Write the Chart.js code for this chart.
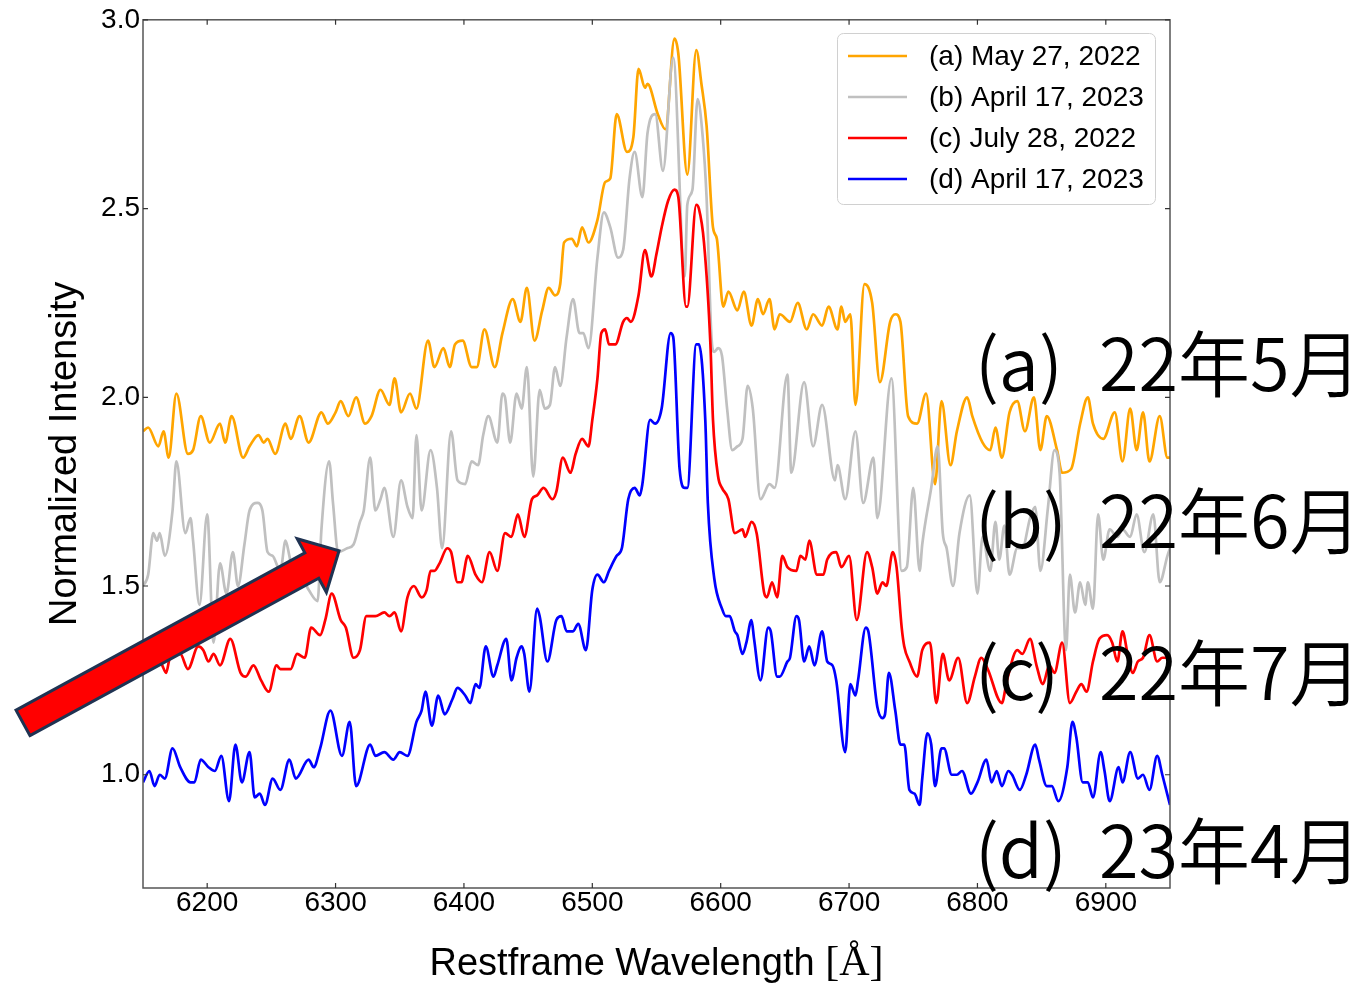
<!DOCTYPE html>
<html lang="ja">
<head>
<meta charset="utf-8">
<title>Restframe spectra</title>
<script src="https://cdn.jsdelivr.net/npm/chart.js@4.4.0/dist/chart.umd.min.js"></script>
<style>
  html, body { margin: 0; padding: 0; background: #fff; }
  canvas { display: block; }
</style>
</head>
<body>
<canvas id="spectra" width="1368" height="983"></canvas>
<script>
// スペクトルデータ: 波長 [Å] と規格化強度
const waveA = [6150,6154,6162,6166,6170,6176,6185,6189,6195,6202,6210,6214,6219,6228,6233,6240,6244,6247,6253,6261,6265,6272,6279,6289,6294,6300,6304,6310,6316,6323,6328,6335,6342,6346,6351,6358,6363,6372,6377,6384,6389,6393,6399,6406,6410,6416,6424,6430,6438,6444,6449,6455,6461,6466,6471,6475,6478,6484,6488,6492,6497,6504,6510,6514,6519,6527,6532,6536,6541,6543,6551,6557,6564,6567,6574,6581,6585,6589,6594,6597,6602,6606,6613,6618,6624,6629,6633,6638,6642,6646,6654,6660,6667,6672,6679,6684,6691,6694,6697,6701,6705,6712,6718,6724,6732,6736,6740,6746,6753,6760,6767,6772,6779,6784,6792,6796,6804,6810,6814,6819,6825,6831,6837,6844,6849,6854,6862,6866,6873,6880,6886,6890,6898,6907,6913,6919,6924,6929,6934,6942,6948,6950];
const fluxA = [1.91,1.92,1.87,1.91,1.84,2.01,1.85,1.86,1.95,1.88,1.93,1.88,1.95,1.84,1.87,1.90,1.88,1.89,1.85,1.93,1.89,1.95,1.88,1.96,1.93,1.96,1.99,1.95,2.00,1.93,1.95,2.02,1.98,2.05,1.96,2.01,1.97,2.15,2.08,2.13,2.08,2.14,2.15,2.08,2.08,2.18,2.08,2.17,2.26,2.20,2.29,2.15,2.23,2.29,2.27,2.30,2.41,2.42,2.40,2.45,2.41,2.47,2.57,2.58,2.75,2.65,2.69,2.87,2.82,2.83,2.75,2.71,2.95,2.91,2.59,2.92,2.83,2.72,2.45,2.42,2.24,2.28,2.23,2.28,2.19,2.26,2.22,2.26,2.18,2.22,2.20,2.25,2.18,2.22,2.19,2.24,2.18,2.24,2.20,2.22,1.98,2.30,2.25,2.04,2.20,2.22,2.20,1.95,1.93,2.01,1.77,1.99,1.82,1.91,2.00,1.95,1.88,1.86,1.92,1.84,1.96,1.99,1.91,2.00,1.86,1.95,1.86,1.80,1.81,1.93,2.00,1.93,1.89,1.96,1.83,1.97,1.86,1.96,1.83,1.95,1.84,1.84];

const waveB = [6150,6154,6158,6161,6163,6167,6173,6176,6183,6187,6189,6194,6200,6205,6210,6215,6220,6224,6229,6233,6239,6243,6247,6251,6257,6261,6264,6268,6272,6279,6286,6289,6295,6298,6302,6309,6314,6319,6322,6327,6331,6335,6338,6345,6351,6356,6360,6363,6367,6374,6379,6383,6390,6395,6401,6406,6411,6415,6419,6426,6430,6432,6436,6441,6445,6449,6454,6459,6463,6467,6471,6475,6480,6485,6490,6493,6497,6504,6509,6514,6520,6524,6529,6533,6539,6543,6549,6555,6563,6572,6574,6578,6582,6586,6589,6593,6595,6598,6601,6605,6609,6613,6617,6621,6625,6631,6638,6642,6652,6655,6665,6672,6679,6689,6691,6697,6705,6711,6719,6722,6733,6741,6745,6750,6755,6757,6764,6769,6773,6776,6781,6786,6794,6800,6804,6810,6814,6817,6821,6825,6831,6835,6841,6845,6849,6855,6860,6864,6869,6872,6876,6880,6884,6886,6890,6894,6898,6903,6909,6913,6919,6924,6930,6937,6942,6948,6950];
const fluxB = [1.50,1.53,1.64,1.62,1.64,1.58,1.70,1.83,1.64,1.68,1.62,1.45,1.69,1.35,1.56,1.48,1.59,1.50,1.61,1.70,1.72,1.70,1.59,1.58,1.54,1.62,1.58,1.51,1.53,1.49,1.46,1.65,1.83,1.72,1.59,1.60,1.61,1.67,1.70,1.84,1.70,1.73,1.76,1.63,1.78,1.71,1.68,1.90,1.70,1.86,1.76,1.60,1.91,1.78,1.77,1.83,1.82,1.90,1.95,1.88,2.01,2.00,1.88,2.01,1.97,2.08,1.79,2.02,1.97,1.98,2.08,2.03,2.16,2.26,2.17,2.17,2.13,2.37,2.49,2.45,2.37,2.39,2.58,2.65,2.53,2.70,2.75,2.60,2.90,2.32,2.51,2.55,2.79,2.69,2.53,2.15,2.12,2.13,2.11,1.97,1.86,1.87,1.89,2.03,1.97,1.73,1.77,1.76,2.06,1.80,2.04,1.87,1.98,1.78,1.82,1.73,1.91,1.72,1.84,1.68,2.05,1.54,1.55,1.76,1.54,1.61,1.76,1.87,1.64,1.60,1.50,1.64,1.74,1.48,1.63,1.54,1.67,1.57,1.66,1.53,1.60,1.60,1.68,1.71,1.54,1.71,1.86,1.80,1.33,1.53,1.43,1.51,1.45,1.51,1.44,1.69,1.57,1.65,1.63,1.65,1.63,1.69,1.59,1.69,1.51,1.58,1.60];

const waveC = [6150,6157,6162,6165,6168,6171,6179,6185,6193,6197,6201,6205,6210,6218,6226,6230,6236,6242,6248,6254,6257,6265,6270,6276,6281,6288,6292,6297,6304,6308,6314,6319,6324,6331,6338,6342,6346,6351,6356,6361,6367,6371,6374,6377,6381,6387,6390,6395,6398,6403,6409,6414,6420,6426,6432,6437,6442,6447,6453,6457,6462,6469,6472,6477,6483,6487,6492,6497,6500,6504,6507,6510,6513,6518,6524,6527,6530,6536,6541,6546,6550,6554,6559,6564,6567,6573,6574,6581,6583,6587,6592,6594,6598,6601,6606,6611,6617,6619,6624,6628,6634,6636,6640,6644,6648,6652,6659,6662,6666,6669,6675,6680,6683,6690,6694,6700,6706,6714,6718,6722,6726,6729,6734,6737,6741,6743,6747,6753,6757,6763,6768,6773,6778,6785,6792,6798,6803,6808,6819,6823,6831,6835,6841,6846,6851,6856,6860,6866,6872,6877,6881,6885,6890,6895,6901,6905,6909,6913,6917,6921,6925,6929,6934,6940,6944,6950];
const fluxC = [1.33,1.30,1.31,1.29,1.27,1.31,1.32,1.28,1.34,1.33,1.30,1.32,1.29,1.36,1.27,1.26,1.29,1.25,1.22,1.29,1.28,1.28,1.32,1.31,1.39,1.37,1.41,1.48,1.41,1.39,1.31,1.33,1.42,1.42,1.43,1.42,1.43,1.38,1.47,1.50,1.47,1.49,1.54,1.54,1.56,1.60,1.59,1.51,1.51,1.58,1.53,1.51,1.59,1.54,1.64,1.63,1.69,1.63,1.73,1.74,1.76,1.73,1.75,1.84,1.80,1.85,1.89,1.87,1.94,2.05,2.17,2.18,2.14,2.14,2.20,2.21,2.20,2.27,2.39,2.32,2.38,2.45,2.52,2.55,2.53,2.24,2.24,2.51,2.50,2.41,2.14,1.94,1.79,1.76,1.73,1.64,1.65,1.63,1.67,1.64,1.48,1.47,1.51,1.47,1.58,1.55,1.54,1.58,1.57,1.62,1.53,1.53,1.57,1.59,1.55,1.58,1.41,1.59,1.55,1.48,1.51,1.50,1.59,1.55,1.39,1.34,1.30,1.26,1.33,1.35,1.19,1.32,1.25,1.31,1.19,1.26,1.31,1.28,1.19,1.25,1.33,1.32,1.36,1.29,1.24,1.29,1.27,1.35,1.19,1.22,1.24,1.22,1.30,1.36,1.37,1.35,1.30,1.38,1.32,1.27,1.30,1.31,1.37,1.30,1.31,1.31];

const waveD = [6150,6155,6159,6163,6167,6173,6179,6187,6190,6195,6201,6206,6211,6217,6222,6227,6233,6237,6241,6245,6251,6257,6264,6269,6279,6283,6288,6296,6305,6311,6316,6327,6331,6338,6345,6350,6356,6363,6367,6370,6375,6380,6385,6391,6395,6401,6405,6409,6412,6417,6423,6426,6433,6437,6441,6445,6447,6451,6457,6459,6465,6472,6476,6480,6485,6489,6495,6500,6504,6509,6513,6519,6523,6528,6533,6537,6539,6545,6549,6554,6561,6563,6568,6572,6574,6581,6583,6588,6590,6595,6601,6604,6607,6611,6613,6617,6620,6624,6626,6631,6637,6639,6644,6646,6652,6654,6659,6661,6665,6669,6673,6679,6683,6687,6690,6697,6701,6705,6707,6713,6715,6722,6726,6728,6731,6736,6740,6743,6747,6751,6755,6757,6761,6764,6767,6772,6774,6780,6784,6788,6795,6800,6807,6811,6815,6819,6824,6827,6833,6838,6845,6848,6854,6858,6863,6870,6874,6877,6882,6886,6890,6896,6899,6903,6910,6913,6919,6925,6929,6934,6940,6944,6950];
const fluxD = [0.98,1.01,0.97,1.00,0.99,1.07,1.02,0.98,0.98,1.04,1.02,1.01,1.05,0.93,1.08,0.98,1.06,0.94,0.95,0.92,0.99,0.96,1.04,0.99,1.04,1.02,1.07,1.17,1.05,1.14,0.97,1.08,1.05,1.06,1.04,1.06,1.05,1.14,1.17,1.22,1.13,1.21,1.16,1.20,1.23,1.21,1.19,1.24,1.23,1.34,1.26,1.29,1.36,1.25,1.31,1.34,1.32,1.22,1.44,1.42,1.30,1.41,1.42,1.38,1.38,1.40,1.33,1.49,1.53,1.51,1.54,1.58,1.60,1.73,1.76,1.74,1.77,1.94,1.93,1.97,2.17,2.16,1.81,1.76,1.76,2.14,2.14,1.94,1.72,1.52,1.44,1.42,1.42,1.38,1.37,1.32,1.35,1.41,1.36,1.25,1.39,1.38,1.26,1.26,1.30,1.31,1.42,1.41,1.30,1.34,1.29,1.38,1.30,1.29,1.25,1.06,1.24,1.21,1.25,1.39,1.38,1.18,1.15,1.16,1.27,1.17,1.08,1.08,0.96,0.95,0.92,0.99,1.11,1.08,0.97,1.07,1.07,1.00,1.00,1.01,0.95,0.98,1.04,0.98,1.01,0.97,1.01,1.00,0.96,1.00,1.08,1.04,0.97,0.97,0.93,1.02,1.14,1.10,0.98,0.98,0.94,1.06,1.01,0.93,1.02,0.98,1.06,0.99,1.00,0.96,1.05,1.00,0.92];

const xTicks = [6200, 6300, 6400, 6500, 6600, 6700, 6800, 6900];
const yTicks = [1.0, 1.5, 2.0, 2.5, 3.0];
const seriesLabels = ['(a) May 27, 2022', '(b) April 17, 2023', '(c) July 28, 2022', '(d) April 17, 2023'];
const tagLabels = ['(a)', '(b)', '(c)', '(d)'];
const monthLabels = ['22年5月', '22年6月', '22年7月', '23年4月'];

const seriesColors = ['#ffa500', '#c0c0c0', '#ff0000', '#0000ff'];
const sansFont = '"Liberation Sans", Arial, sans-serif';
const cjkFont = '"Noto Sans CJK JP", "Noto Sans CJK SC", sans-serif';

const spectra = [[waveA, fluxA], [waveB, fluxB], [waveC, fluxC], [waveD, fluxD]];

function toPoints(wave, flux) {
    return wave.map((w, i) => ({ x: w, y: flux[i] }));
}

// 赤い矢印（尾と先端はデータ座標で指定）
function drawArrow(ctx, x0, y0, x1, y1, shaftW, headW, headL) {
    const len = Math.hypot(x1 - x0, y1 - y0);
    const ux = (x1 - x0) / len, uy = (y1 - y0) / len;
    const nx = -uy, ny = ux;
    const bx = x0 + ux * (len - headL), by = y0 + uy * (len - headL);
    ctx.beginPath();
    ctx.moveTo(x0 + nx * shaftW / 2, y0 + ny * shaftW / 2);
    ctx.lineTo(bx + nx * shaftW / 2, by + ny * shaftW / 2);
    ctx.lineTo(bx + nx * headW / 2, by + ny * headW / 2);
    ctx.lineTo(x1, y1);
    ctx.lineTo(bx - nx * headW / 2, by - ny * headW / 2);
    ctx.lineTo(bx - nx * shaftW / 2, by - ny * shaftW / 2);
    ctx.lineTo(x0 - nx * shaftW / 2, y0 - ny * shaftW / 2);
    ctx.closePath();
    ctx.fillStyle = '#ff0000';
    ctx.fill();
    ctx.lineJoin = 'miter';
    ctx.lineWidth = 3;
    ctx.strokeStyle = '#1f3352';
    ctx.stroke();
}

const overlay = {
    id: 'overlay',
    afterDraw(chart) {
        const { ctx, chartArea: a, scales: { x, y } } = chart;
        ctx.save();

        // 枠と内向きの目盛り
        ctx.strokeStyle = '#555';
        ctx.lineWidth = 1.5;
        ctx.strokeRect(a.left, a.top, a.right - a.left, a.bottom - a.top);
        ctx.strokeStyle = '#333';
        ctx.lineWidth = 1.2;
        ctx.beginPath();
        xTicks.forEach(v => {
            const px = x.getPixelForValue(v);
            ctx.moveTo(px, a.bottom); ctx.lineTo(px, a.bottom - 5);
            ctx.moveTo(px, a.top); ctx.lineTo(px, a.top + 5);
        });
        yTicks.forEach(v => {
            const py = y.getPixelForValue(v);
            ctx.moveTo(a.left, py); ctx.lineTo(a.left + 5, py);
            ctx.moveTo(a.right, py); ctx.lineTo(a.right - 5, py);
        });
        ctx.stroke();

        // 軸タイトル
        ctx.fillStyle = '#000';
        ctx.textBaseline = 'alphabetic';
        ctx.font = '38px ' + sansFont;
        const xTitle = 'Restframe Wavelength ';
        const wMain = ctx.measureText(xTitle).width;
        ctx.font = '42px "Liberation Serif", serif';
        const wUnit = ctx.measureText('[Å]').width;
        const cx = (a.left + a.right) / 2;
        const startX = cx - (wMain + wUnit) / 2;
        ctx.font = '38px ' + sansFont;
        ctx.textAlign = 'left';
        ctx.fillText(xTitle, startX, 975);
        ctx.font = '42px "Liberation Serif", serif';
        ctx.fillText('[Å]', startX + wMain, 975);

        ctx.save();
        ctx.translate(76, (a.top + a.bottom) / 2);
        ctx.rotate(-Math.PI / 2);
        ctx.textAlign = 'center';
        ctx.font = '38px ' + sansFont;
        ctx.fillText('Normalized Intensity', 0, 0);
        ctx.restore();

        // 凡例
        ctx.fillStyle = 'rgba(255,255,255,0.8)';
        ctx.strokeStyle = '#d0d0d0';
        ctx.lineWidth = 1;
        ctx.beginPath();
        ctx.roundRect(837.5, 33.5, 318, 171, 6);
        ctx.fill();
        ctx.stroke();
        ctx.font = '28px ' + sansFont;
        ctx.textAlign = 'left';
        ctx.textBaseline = 'middle';
        chart.data.datasets.forEach((ds, i) => {
            const rowY = 56 + i * 41;
            ctx.strokeStyle = ds.borderColor;
            ctx.lineWidth = 2.5;
            ctx.beginPath();
            ctx.moveTo(848, rowY);
            ctx.lineTo(907, rowY);
            ctx.stroke();
            ctx.fillStyle = '#000';
            ctx.fillText(ds.label, 929, rowY + 1);
        });

        // 右側の観測月ラベル
        const tagRows = [391, 548, 700, 878];
        ctx.textBaseline = 'alphabetic';
        ctx.font = '350 72px ' + cjkFont;
        ctx.fillStyle = '#000';
        tagLabels.forEach((t, i) => {
            ctx.fillText(t, 975, tagRows[i]);
            ctx.fillText(monthLabels[i], 1099, tagRows[i]);
        });

        // 矢印
        drawArrow(ctx,
            x.getPixelForValue(6056.5), y.getPixelForValue(1.1375),
            x.getPixelForValue(6302.7), y.getPixelForValue(1.5936),
            29, 61, 31);

        ctx.restore();
    }
};

new Chart(document.getElementById('spectra'), {
    type: 'line',
    data: {
        datasets: spectra.map(([w, f], i) => ({
            label: seriesLabels[i],
            data: toPoints(w, f),
            borderColor: seriesColors[i],
            borderWidth: 2.7,
            pointRadius: 0,
            fill: false,
            cubicInterpolationMode: 'monotone',
            order: spectra.length - i
        }))
    },
    options: {
        responsive: false,
        animation: false,
        devicePixelRatio: 1,
        events: [],
        layout: { padding: { top: 18, right: 198, left: 0, bottom: 0 } },
        plugins: { legend: { display: false }, tooltip: { enabled: false } },
        scales: {
            x: {
                type: 'linear',
                min: 6150,
                max: 6950,
                grid: { display: false, drawTicks: false },
                border: { display: false },
                afterBuildTicks: s => { s.ticks = xTicks.map(v => ({ value: v })); },
                afterFit: s => { s.height = 95; },
                ticks: {
                    autoSkip: false,
                    maxRotation: 0,
                    padding: -2,
                    color: '#000',
                    font: { family: sansFont, size: 28 },
                    callback: v => String(v)
                }
            },
            y: {
                type: 'linear',
                min: 0.7,
                max: 3.0,
                grid: { display: false, drawTicks: false },
                border: { display: false },
                afterBuildTicks: s => { s.ticks = yTicks.map(v => ({ value: v })); },
                afterFit: s => { s.width = 143; },
                ticks: {
                    padding: 3,
                    color: '#000',
                    font: { family: sansFont, size: 28 },
                    callback: v => Number(v).toFixed(1)
                }
            }
        }
    },
    plugins: [overlay]
});
</script>
</body>
</html>
